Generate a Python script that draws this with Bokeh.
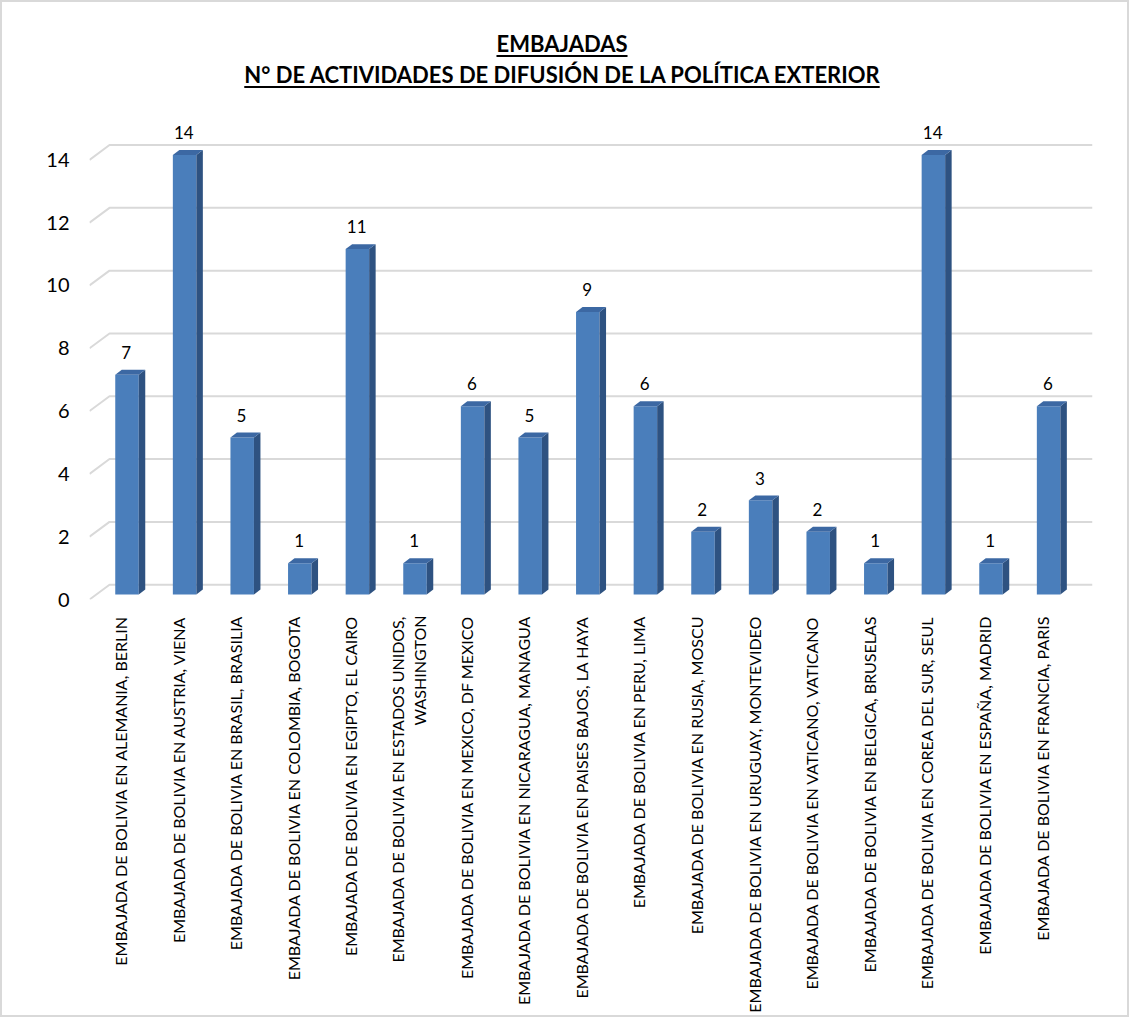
import math
from bokeh.plotting import figure
from bokeh.models import Range1d, FixedTicker, Div
from bokeh.layouts import column
from bokeh.core.properties import value
from bokeh.embed import file_html
from bokeh.resources import INLINE

# ---------------- data ----------------
categories = [
    "EMBAJADA DE BOLIVIA EN ALEMANIA, BERLIN",
    "EMBAJADA DE BOLIVIA EN AUSTRIA, VIENA",
    "EMBAJADA DE BOLIVIA EN BRASIL, BRASILIA",
    "EMBAJADA DE BOLIVIA EN COLOMBIA, BOGOTA",
    "EMBAJADA DE BOLIVIA EN EGIPTO, EL CAIRO",
    "EMBAJADA DE BOLIVIA EN ESTADOS UNIDOS,\nWASHINGTON",
    "EMBAJADA DE BOLIVIA EN MEXICO, DF MEXICO",
    "EMBAJADA DE BOLIVIA EN NICARAGUA, MANAGUA",
    "EMBAJADA DE BOLIVIA EN PAISES BAJOS, LA HAYA",
    "EMBAJADA DE BOLIVIA EN PERU, LIMA",
    "EMBAJADA DE BOLIVIA EN RUSIA, MOSCU",
    "EMBAJADA DE BOLIVIA EN URUGUAY, MONTEVIDEO",
    "EMBAJADA DE BOLIVIA EN VATICANO, VATICANO",
    "EMBAJADA DE BOLIVIA EN BELGICA, BRUSELAS",
    "EMBAJADA DE BOLIVIA EN COREA DEL SUR, SEUL",
    "EMBAJADA DE BOLIVIA EN ESPAÑA, MADRID",
    "EMBAJADA DE BOLIVIA EN FRANCIA, PARIS",
]
values = [7, 14, 5, 1, 11, 1, 6, 5, 9, 6, 2, 3, 2, 1, 14, 1, 6]
y_ticks = [0, 2, 4, 6, 8, 10, 12, 14]
title_line1 = "EMBAJADAS"
title_line2 = "N° DE ACTIVIDADES DE DIFUSIÓN DE LA POLÍTICA EXTERIOR"

# ---------------- geometry (pixel-based 3D look) ----------------
PX_X = 57.6   # px per category
PX_Y = 31.8   # px per value unit
FRAME_W = 1003
FRAME_H = 483
x_start = -31.0 / PX_X
x_end = x_start + FRAME_W / PX_X
y_start = 0.0
y_end = FRAME_H / PX_Y

wall_dx, wall_dy = 20.0 / PX_X, 15.0 / PX_Y
off_dx, off_dy = 6.5 / PX_X, 5.0 / PX_Y
dep_dx, dep_dy = 6.5 / PX_X, 5.0 / PX_Y
half_w = 11.75 / PX_X

FRONT = "#4A7EBB"
SIDE = "#2E5281"
TOP = "#3C68A3"
GRID = "#D9D9D9"

n = len(values)
idx = list(range(n))
left = [i + off_dx - half_w for i in idx]
right = [i + off_dx + half_w for i in idx]
bottom = [off_dy] * n
top = [v + off_dy for v in values]

side_xs = [[r, r + dep_dx, r + dep_dx, r] for r in right]
side_ys = [[b, b + dep_dy, t + dep_dy, t] for b, t in zip(bottom, top)]
top_xs = [[l, l + dep_dx, r + dep_dx, r] for l, r in zip(left, right)]
top_ys = [[t, t + dep_dy, t + dep_dy, t] for t in top]

grid_xs = [[x_start, x_start + wall_dx, x_end] for _ in y_ticks]
grid_ys = [[t, t + wall_dy, t + wall_dy] for t in y_ticks]

lab_x = [i + 0.10 for i in idx]
lab_y = [t + dep_dy + 11.0 / PX_Y for t in top]

# ---------------- figure ----------------
W = 1115
p = figure(width=W, height=903, output_backend="svg", toolbar_location=None,
           x_range=Range1d(x_start, x_end), y_range=Range1d(y_start, y_end),
           min_border_left=87, min_border_right=25, min_border_top=10,
           min_border_bottom=410)
p.outline_line_color = None
p.xgrid.visible = False
p.ygrid.visible = False
p.background_fill_color = "white"
p.border_fill_color = "white"

p.multi_line(grid_xs, grid_ys, line_color=GRID, line_width=2)

p.quad(left=left, right=right, bottom=bottom, top=top,
       fill_color=FRONT, line_color=None)
p.patches(side_xs, side_ys, fill_color=SIDE, line_color=None)
p.patches(top_xs, top_ys, fill_color=TOP, line_color=None)

p.text(x=lab_x, y=lab_y, text=[str(v) for v in values],
       text_font=value("Lato"), text_font_size="17px", text_color="black",
       text_align="center", text_baseline="bottom")

# x axis
p.xaxis.ticker = FixedTicker(ticks=idx)
p.xaxis.major_label_overrides = {i: c for i, c in zip(idx, categories)}
p.xaxis.major_label_orientation = math.pi / 2
p.xaxis.major_label_text_font = "Lato"
p.xaxis.major_label_text_font_size = "16px"
p.xaxis.major_label_text_color = "black"
p.xaxis.major_label_standoff = 10
p.xaxis.axis_line_color = None
p.xaxis.major_tick_line_color = None
p.xaxis.minor_tick_line_color = None

# y axis
p.yaxis.ticker = FixedTicker(ticks=y_ticks)
p.yaxis.major_label_text_font = "Lato"
p.yaxis.major_label_text_font_size = "20px"
p.yaxis.major_label_text_color = "black"
p.yaxis.major_label_standoff = 14
p.yaxis.axis_line_color = None
p.yaxis.major_tick_line_color = None
p.yaxis.minor_tick_line_color = None

title = Div(
    text=(
        '<div style="width:1110px; text-align:center; font-family:Lato; font-weight:bold; '
        'font-size:22px; line-height:31px; color:#000; text-decoration:underline; '
        'text-decoration-thickness:2px; text-underline-offset:3px; padding-top:21px;">'
        f'{title_line1}<br>{title_line2}</div>'
    ),
    width=W, height=100,
)

layout = column(title, p, spacing=0, styles={"border": "2px solid #D9D9D9"})

open("out.html", "w").write(file_html(layout, INLINE))
